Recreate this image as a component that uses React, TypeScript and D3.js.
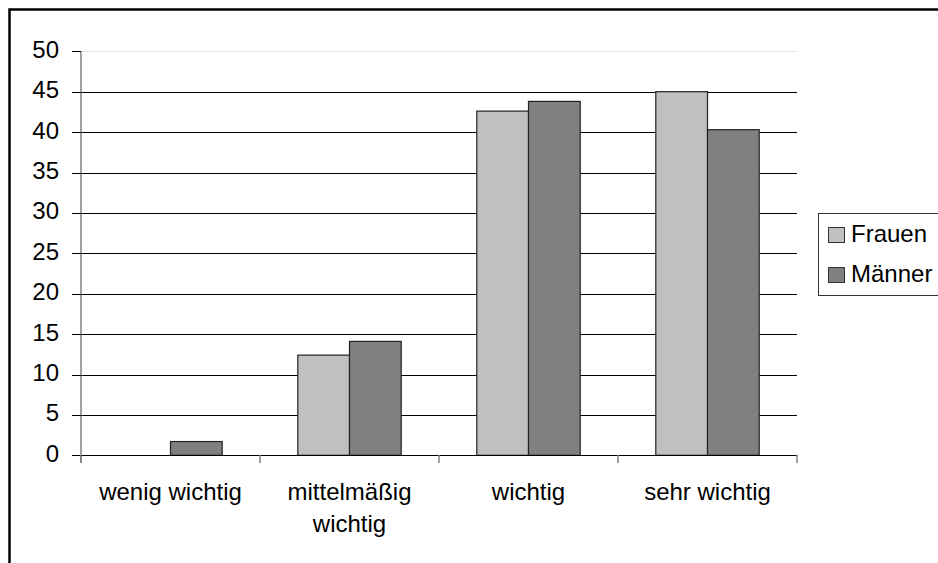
import React from "react";
import * as d3 from "d3";

const categories = ["wenig wichtig", "mittelmäßig wichtig", "wichtig", "sehr wichtig"];
const categoryLines = [["wenig wichtig"], ["mittelmäßig", "wichtig"], ["wichtig"], ["sehr wichtig"]];
const seriesNames = ["Frauen", "Männer"];
const frauen = [0, 12.4, 42.6, 45.0];
const maenner = [1.7, 14.1, 43.8, 40.3];
const yTicks = [0, 5, 10, 15, 20, 25, 30, 35, 40, 45, 50];
const colors = ["#C0C0C0", "#808080"];

const W = 938;
const H = 563;
const FONT = "'Liberation Sans', Arial, sans-serif";

export default function App() {
  const x = d3.scaleBand<string>().domain(categories).range([81, 797]).paddingInner(0).paddingOuter(0);
  const xs = d3.scaleBand<string>().domain(seriesNames).range([0, x.bandwidth()]).paddingInner(0).paddingOuter(0.731);
  const y = d3.scaleLinear().domain([0, 50]).range([455.3, 51.3]);
  const values = [frauen, maenner];
  const boundaries = categories.map((c) => x(c) as number).concat([797]);

  return (
    <svg width={W} height={H} style={{ position: "absolute", left: 0, top: 0, background: "#fff" }} fontFamily={FONT}>
      <rect x={0} y={0} width={W} height={H} fill="#fff" />
      {/* outer chart border */}
      <rect x={9.5} y={9.5} width={W + 20} height={H + 20} fill="none" stroke="#000" strokeWidth={2.5} />

      {/* gridlines */}
      {yTicks.map((t) => (
        <line
          key={"g" + t}
          x1={81}
          x2={797}
          y1={Math.round(y(t)) + 0.5}
          y2={Math.round(y(t)) + 0.5}
          stroke={t === 50 ? "#e6e6e6" : "#000"}
          strokeWidth={1}
        />
      ))}

      {/* bars */}
      {values.map((vals, si) =>
        categories.map((c, ci) => {
          const v = vals[ci];
          if (v <= 0) return null;
          const bx = (x(c) as number) + (xs(seriesNames[si]) as number);
          return (
            <rect
              key={si + "-" + ci}
              x={bx}
              y={y(v)}
              width={xs.bandwidth()}
              height={y(0) - y(v)}
              fill={colors[si]}
              stroke="#222"
              strokeWidth={1.2}
            />
          );
        })
      )}

      {/* y axis */}
      <line x1={81} x2={81} y1={y(50)} y2={463} stroke="#808080" strokeWidth={1.5} />
      {yTicks.map((t) => (
        <g key={"t" + t}>
          <line x1={72} x2={81} y1={Math.round(y(t)) + 0.5} y2={Math.round(y(t)) + 0.5} stroke="#000" strokeWidth={1} />
          <text x={59} y={y(t) + 6.5} textAnchor="end" fontSize={24} fill="#000">
            {t}
          </text>
        </g>
      ))}

      {/* x axis */}
      <line x1={81} x2={797} y1={455.5} y2={455.5} stroke="#000" strokeWidth={1.2} />
      {boundaries.map((b, i) => (
        <line key={"xt" + i} x1={b} x2={b} y1={455} y2={463} stroke="#808080" strokeWidth={1.5} />
      ))}
      {categories.map((c, ci) => (
        <text key={"xl" + ci} x={(x(c) as number) + x.bandwidth() / 2} textAnchor="middle" fontSize={24} fill="#000">
          {categoryLines[ci].map((ln, li) => (
            <tspan key={li} x={(x(c) as number) + x.bandwidth() / 2} y={500 + li * 32}>
              {ln}
            </tspan>
          ))}
        </text>
      ))}

      {/* legend */}
      <rect x={818.5} y={213.5} width={140} height={82} fill="#fff" stroke="#333" strokeWidth={1} />
      {seriesNames.map((s, i) => (
        <g key={"lg" + i}>
          <rect x={828.5} y={227.5 + i * 40} width={16} height={15} fill={colors[i]} stroke="#333" strokeWidth={1} />
          <text x={851} y={241.5 + i * 40} fontSize={24} fill="#000">
            {s}
          </text>
        </g>
      ))}
    </svg>
  );
}
